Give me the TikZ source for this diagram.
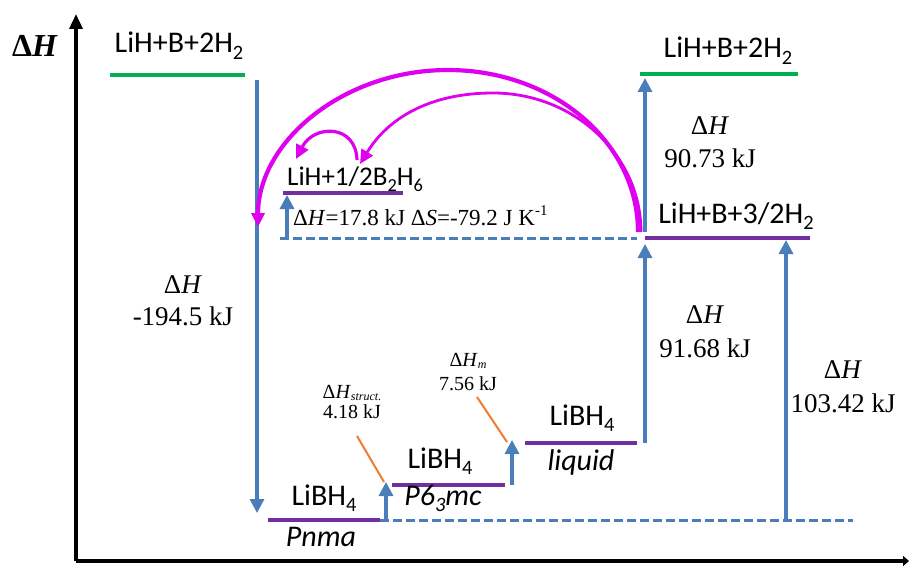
\documentclass[tikz,border=0pt]{standalone}
\usepackage{fontspec}
\usepackage{graphicx}
\setmainfont{Liberation Serif}
\newfontfamily\calib{Carlito}
\usetikzlibrary{arrows.meta}
\definecolor{eblue}{HTML}{4A7EBB}
\definecolor{epurple}{HTML}{7030A0}
\definecolor{egreen}{HTML}{00B050}
\definecolor{eorange}{HTML}{ED7D31}
\definecolor{emag}{HTML}{E000F0}
\newcommand\lsub[1]{\raisebox{-0.23em}{\scalebox{0.68}{#1}}}
\newcommand\ssub[1]{\raisebox{-0.12em}{\scalebox{0.6}{#1}}}
\newcommand\lsup[1]{\raisebox{0.42em}{\scalebox{0.65}{#1}}}
\tikzset{
  lvlpurple/.style={draw=epurple, line width=4.5pt},
  lvlgreen/.style={draw=egreen, line width=4.5pt},
  dharrow/.style={draw=eblue, line width=3.2pt, -{Triangle[length=14pt,width=14pt]}},
  basedash/.style={draw=eblue, line width=3pt, dash pattern=on 9pt off 4pt},
  magarc/.style={draw=emag, -{Triangle[length=14pt,width=13pt]}},
  leader/.style={draw=eorange, line width=2pt},
  axisline/.style={draw=black, line width=3.5pt},
  sanslbl/.style={anchor=base, inner sep=0pt, font=\calib\fontsize{30}{36}\selectfont},
  sansit/.style={anchor=base, inner sep=0pt, font=\calib\itshape\fontsize{30}{36}\selectfont},
  seriflbl/.style={anchor=base, inner sep=0pt, font=\fontsize{27}{32}\selectfont},
  smallserif/.style={anchor=base, inner sep=0pt, font=\fontsize{20}{24}\selectfont},
}
\begin{document}
\begin{tikzpicture}[x=1pt,y=-1pt]
\useasboundingbox (0,0) rectangle (909,567);
% axes
\coordinate (origin) at (76,561);
\coordinate (ytop) at (76,14);
\coordinate (xend) at (909,561);
\draw[axisline,-{Triangle[length=15pt,width=13pt]}] (origin) -- (ytop);
\draw[axisline,-{Triangle[length=6pt,width=10pt]}] (origin) -- (xend);
\node[anchor=base, inner sep=0pt, font=\bfseries\fontsize{32}{36}\selectfont] (axlbl) at (35,57) {Δ\textit{H}};

% level coordinates
\coordinate (gTLa) at (110,75);  \coordinate (gTLb) at (245,75);
\coordinate (gTRa) at (640,74);  \coordinate (gTRb) at (798,74);
\coordinate (p32a) at (645,238); \coordinate (p32b) at (810,238);
\coordinate (pB2a) at (283,193); \coordinate (pB2b) at (403,193);
\coordinate (pPna) at (268,520); \coordinate (pPnb) at (380,520);
\coordinate (pP6a) at (392,485); \coordinate (pP6b) at (505,485);
\coordinate (pLqa) at (525,443); \coordinate (pLqb) at (637,443);

% dashed baselines
\coordinate (d1a) at (380,520); \coordinate (d1b) at (853,520);
\coordinate (d2a) at (280,238); \coordinate (d2b) at (637,238);
\draw[basedash] (d1a) -- (d1b);
\draw[basedash] (d2a) -- (d2b);

% levels
\draw[lvlgreen] (gTLa) -- (gTLb);
\draw[lvlgreen] (gTRa) -- (gTRb);
\draw[lvlpurple] (p32a) -- (p32b);
\draw[lvlpurple] (pB2a) -- (pB2b);
\draw[lvlpurple] (pPna) -- (pPnb);
\draw[lvlpurple] (pP6a) -- (pP6b);
\draw[lvlpurple] (pLqa) -- (pLqb);

% blue enthalpy arrows
\coordinate (a1s) at (257,80);  \coordinate (a1e) at (257,513);
\coordinate (a2s) at (386,520); \coordinate (a2e) at (386,482);
\coordinate (a3s) at (512,485); \coordinate (a3e) at (512,440);
\coordinate (a4s) at (645,443); \coordinate (a4e) at (645,244);
\coordinate (a5s) at (645,232); \coordinate (a5e) at (645,78);
\coordinate (a6s) at (786,520); \coordinate (a6e) at (786,240);
\coordinate (a7s) at (287,238); \coordinate (a7e) at (287,195);
\draw[dharrow] (a1s) -- (a1e);
\draw[dharrow] (a2s) -- (a2e);
\draw[dharrow] (a3s) -- (a3e);
\draw[dharrow] (a4s) -- (a4e);
\draw[dharrow] (a5s) -- (a5e);
\draw[dharrow] (a6s) -- (a6e);
\draw[dharrow] (a7s) -- (a7e);

% orange leaders
\coordinate (o1a) at (357,436); \coordinate (o1b) at (384,482);
\coordinate (o2a) at (477,397); \coordinate (o2b) at (507,442);
\draw[leader] (o1a) -- (o1b);
\draw[leader] (o2a) -- (o2b);

% magenta arcs
\coordinate (m1s) at (638,232); \coordinate (m1e) at (258,227);
\coordinate (m2s) at (641,232); \coordinate (m2e) at (360,164);
\coordinate (m3s) at (357,160); \coordinate (m3e) at (296,159);
\draw[magarc, line width=4.2pt] (m1s) .. controls (638,142) and (553,70) .. (448,70)
      .. controls (343,70) and (258,142) .. (m1e);
\draw[magarc, line width=2.8pt] (m2s) .. controls (641,155) and (574,93) .. (493,93)
      .. controls (430,93) and (388,118) .. (m2e);
\draw[magarc, line width=3.2pt] (m3s) .. controls (356,124) and (314,124) .. (m3e);

% labels
\node[sanslbl] (tTL) at (179,53) {LiH+B+2H\lsub{2}};
\node[sanslbl] (tTR) at (728,58) {LiH+B+2H\lsub{2}};
\node[sanslbl] (t32) at (736,223) {LiH+B+3/2H\lsub{2}};
\node[sanslbl, anchor=base west, font=\calib\fontsize{27}{32}\selectfont] (tB2) at (287,185) {LiH+1/2B\lsub{2}H\lsub{6}};
\node[anchor=base west, inner sep=0pt, font=\fontsize{23}{28}\selectfont] (tdS) at (293,225) {Δ\textit{H}=17.8 kJ Δ\textit{S}=-79.2 J K\lsup{-1}};

\node[seriflbl] (h1a) at (183,293) {Δ\textit{H}};
\node[seriflbl] (h1b) at (183,325) {-194.5 kJ};
\node[seriflbl] (h2a) at (710,135) {Δ\textit{H}};
\node[seriflbl] (h2b) at (710,167) {90.73 kJ};
\node[seriflbl] (h3a) at (705,323) {Δ\textit{H}};
\node[seriflbl] (h3b) at (705,357) {91.68 kJ};
\node[seriflbl] (h4a) at (843,378) {Δ\textit{H}};
\node[seriflbl] (h4b) at (843,412) {103.42 kJ};

\node[smallserif] (s1a) at (352,398) {Δ\textit{H}\ssub{\textit{struct.}}};
\node[smallserif] (s1b) at (352,418) {4.18 kJ};
\node[smallserif] (s2a) at (468,366) {Δ\textit{H}\ssub{\textit{m}}};
\node[smallserif] (s2b) at (468,390) {7.56 kJ};

\node[sanslbl] (lb1) at (324,505) {LiBH\lsub{4}};
\node[sansit]  (ph1) at (321,546) {Pnma};
\node[sanslbl] (lb2) at (440,468) {LiBH\lsub{4}};
\node[sansit]  (ph2) at (443,505) {P6\lsub{3}mc};
\node[sanslbl] (lb3) at (582,425) {LiBH\lsub{4}};
\node[sansit]  (ph3) at (581,470) {liquid};
\end{tikzpicture}
\end{document}
